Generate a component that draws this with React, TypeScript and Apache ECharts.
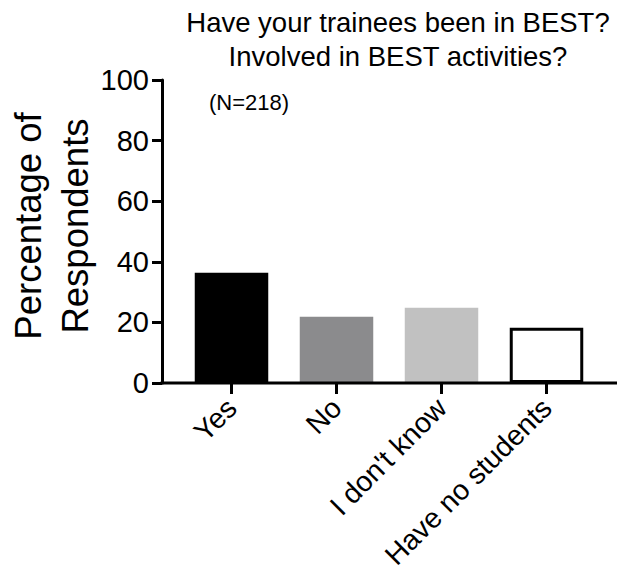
import React, { useEffect, useRef } from "react";
import * as echarts from "echarts";

const categories = ["Yes", "No", "I don't know", "Have no students"];
const percentages = [36.4, 21.9, 24.8, 18.2];
const barColors = ["#000000", "#8b8b8d", "#c1c1c1", "#ffffff"];
const yTicks = { min: 0, max: 100, interval: 20 };
const titleText = "Have your trainees been in BEST?\nInvolved in BEST activities?";
const nText = "(N=218)";
const yName = "Percentage of\nRespondents";

const FONT = "'Liberation Sans', Arial, Helvetica, sans-serif";

export default function App() {
  const ref = useRef<HTMLDivElement>(null);
  useEffect(() => {
    document.body.style.margin = "0";
    if (!ref.current) return;
    const chart = echarts.init(ref.current, undefined, { renderer: "svg" });
    chart.setOption({
      animation: false,
      backgroundColor: "#ffffff",
      textStyle: { fontFamily: FONT, color: "#000" },
      title: {
        text: titleText,
        left: 393,
        top: 0,
        textAlign: "center",
        textStyle: {
          fontFamily: FONT,
          fontSize: 27.5,
          fontWeight: "normal",
          color: "#000",
          lineHeight: 34,
        },
      },
      grid: {
        left: 179,
        right: 25,
        top: 80,
        bottom: 192,
        containLabel: false,
        outerBoundsMode: "none",
      },
      xAxis: {
        type: "category",
        data: categories,
        boundaryGap: true,
        axisLine: { show: false },
        axisTick: {
          show: true,
          alignWithLabel: true,
          length: 11,
          lineStyle: { color: "#000", width: 3 },
        },
        axisLabel: {
          rotate: 45,
          margin: 20,
          fontSize: 28.5,
          fontFamily: FONT,
          color: "#000",
          interval: 0,
        },
      },
      yAxis: {
        type: "value",
        min: yTicks.min,
        max: yTicks.max,
        interval: yTicks.interval,
        offset: 17,
        splitLine: { show: false },
        axisLine: { show: true, lineStyle: { color: "#000", width: 3 } },
        axisTick: { show: true, length: 10, lineStyle: { color: "#000", width: 3 } },
        axisLabel: { fontSize: 29, fontFamily: FONT, color: "#000", margin: 13 },
      },
      graphic: [
        {
          type: "line",
          shape: { x1: 160.5, y1: 383, x2: 617, y2: 383 },
          style: { stroke: "#000", lineWidth: 3 },
          z: 10,
        },
        {
          type: "text",
          left: 209,
          top: 91,
          style: { text: nText, font: `22px ${FONT}`, fill: "#000" },
        },
        {
          type: "text",
          x: 52,
          y: 226,
          rotation: Math.PI / 2,
          style: {
            text: yName,
            font: `36.5px ${FONT}`,
            fill: "#000",
            align: "center",
            verticalAlign: "middle",
            lineHeight: 47,
          },
        },
      ],
      series: [
        {
          type: "bar",
          barCategoryGap: "30%",
          data: percentages.map((v, i) => ({
            value: v,
            itemStyle: {
              color: barColors[i],
              borderColor: "#000",
              borderWidth: i === 3 ? 3 : 0,
            },
          })),
        },
      ],
    });
    return () => chart.dispose();
  }, []);
  return <div ref={ref} style={{ width: 624, height: 575 }} />;
}
